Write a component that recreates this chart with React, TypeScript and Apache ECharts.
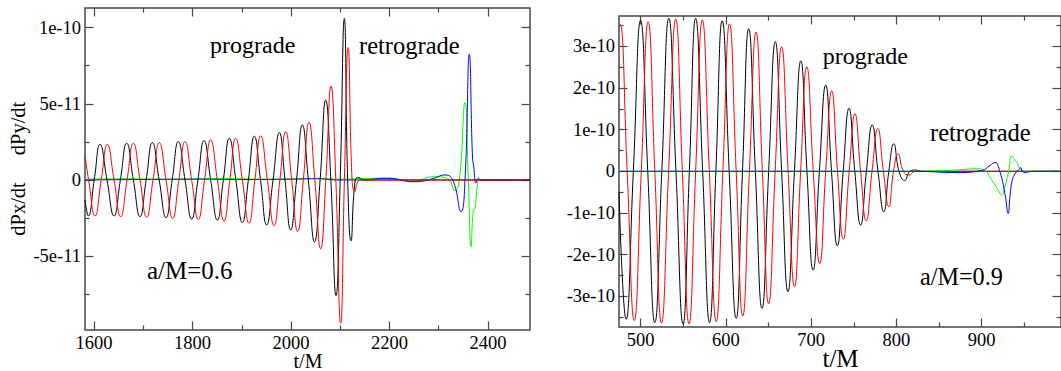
import React, { useEffect, useRef } from "react";
import * as echarts from "echarts";

// ---------- tick values / labels ----------
const leftXMajor = [1600, 1800, 2000, 2200, 2400];
const leftXMinor = [1700, 1900, 2100, 2300];
const leftYMajor = [-5, 0, 5, 10]; // units of 1e-11
const leftYLabels = ["-5e-11", "0", "5e-11", "1e-10"];
const leftYMinor = [-7.5, -2.5, 2.5, 7.5];
const rightXMajor = [500, 600, 700, 800, 900];
const rightXMinor = [550, 650, 750, 850, 950];
const rightYMajor = [-3, -2, -1, 0, 1, 2, 3]; // units of 1e-10
const rightYLabels = ["-3e-10", "-2e-10", "-1e-10", "0", "1e-10", "2e-10", "3e-10"];
const rightYMinor = [-3.5, -2.5, -1.5, -0.5, 0.5, 1.5, 2.5, 3.5];

// ---------- left panel (a/M=0.6), values in 1e-11 ----------
const leftBlack = [
  [1581.7, -1.3], [1588.5, -2.36], [1600.4, 0], [1612.2, 2.34], [1626.4, 0], [1640.6, -2.36],
  [1653.5, 0], [1666.3, 2.41], [1679.9, 0], [1693.4, -2.41], [1705.9, 0], [1718.4, 2.45],
  [1732.3, 0], [1746.2, -2.47], [1758.7, 0], [1771.2, 2.52], [1784.8, 0], [1798.3, -2.56],
  [1810.9, 0], [1823.4, 2.58], [1836.9, 0], [1850.4, -2.63], [1862.6, 0], [1874.8, 2.74],
  [1888.0, 0], [1901.2, -2.8], [1913.4, 0], [1925.5, 2.87], [1938.1, 0], [1950.6, -2.95],
  [1963.5, 0], [1976.3, 3.11], [1987.8, 0], [1999.3, -3.28], [2011.2, 0], [2023.0, 3.61],
  [2035.2, 0], [2047.8, -4.07], [2059.1, 0], [2070.4, 5.25], [2080.9, 0], [2091.4, -7.59],
  [2099.9, 0], [2108.3, 10.6], [2115.1, 0], [2121.8, -4.0], [2130.5, 0], [2138.5, 0.15],
  [2146, 0], [2485.3, 0],
];
const leftRed = [
  [1581.7, 1.64], [1589.0, 0], [1602.0, -2.36], [1614.6, 0], [1627.1, 2.34], [1640.6, 0],
  [1654.1, -2.41], [1667.0, 0], [1679.9, 2.41], [1693.4, 0], [1706.9, -2.45], [1719.8, 0],
  [1732.7, 2.45], [1746.2, 0], [1759.7, -2.52], [1772.3, 0], [1784.8, 2.52], [1798.3, 0],
  [1811.8, -2.58], [1824.4, 0], [1836.9, 2.63], [1850.5, 0], [1864.0, -2.69], [1875.8, 0],
  [1887.6, 2.74], [1901.2, 0], [1914.7, -2.84], [1926.6, 0], [1938.4, 2.89], [1952.0, 0],
  [1965.5, -3.0], [1977.4, 0], [1989.2, 3.17], [2001.4, 0], [2013.5, -3.39], [2025.0, 0],
  [2036.5, 3.79], [2048.4, 0], [2060.2, -4.52], [2070.7, 0], [2081.2, 6.17], [2091.0, 0],
  [2100.8, -9.41], [2108.4, 0], [2116.0, 8.69], [2124.0, 0], [2129.5, -0.77], [2136, -0.1],
  [2145, 0], [2485.3, 0],
];
const leftGreen = [
  [1581.7, 0.05], [1650, 0.08], [1750, 0.05], [1850, 0.1], [1950, 0.05], [2050, 0.1],
  [2100, 0.05], [2150, 0.1], [2200, 0.12], [2245, -0.12], [2290, 0.22], [2318, 0.1],
  [2333, -0.7], [2341.8, 0], [2353.3, 5.08], [2360.1, 0], [2365.5, -4.38], [2370.2, -1.97],
  [2373.6, -1.9], [2378.3, -0.44], [2383.8, 0], [2485.3, 0],
];
const leftBlue = [
  [1581.7, 0], [1700, 0.03], [1800, 0.05], [1900, 0.03], [2000, 0.05], [2050, 0.08],
  [2100, 0], [2140, 0], [2194, 0.11], [2252, -0.11], [2290, 0.1], [2311, 0.33],
  [2328.3, 0], [2345.2, -2.08], [2353.3, 0], [2362.1, 8.25], [2368.5, 1.5], [2371, 0.9],
  [2375.6, -0.2], [2380.3, 0.11], [2386, 0], [2485.3, 0],
];

// ---------- right panel (a/M=0.9), values in 1e-10 ----------
const rightBlack = [
  [474.7, -0.5], [483.0, -3.55], [491.5, 0], [500.0, 3.62], [508.4, 0], [516.7, -3.63],
  [524.9, 0], [533.1, 3.67], [541.5, 0], [549.8, -3.66], [557.2, 0], [564.6, 3.67],
  [572.8, 0], [580.9, -3.63], [588.3, 0], [595.7, 3.61], [603.9, 0], [612.1, -3.53],
  [619.5, 0], [626.8, 3.42], [634.6, 0], [642.4, -3.29], [650.2, 0], [658.0, 3.11],
  [665.4, 0], [672.8, -2.89], [680.4, 0], [687.9, 2.65], [695.1, 0], [702.3, -2.37],
  [709.7, 0], [717.1, 2.07], [723.9, 0], [730.7, -1.79], [737.6, 0], [744.4, 1.51],
  [751.2, 0], [758.0, -1.29], [764.8, 0], [771.6, 1.11], [778.4, 0], [785.2, -0.97],
  [791.1, 0], [796.9, 0.66], [803.1, 0], [809.5, -0.22], [816, 0], [822, 0.03], [830, 0],
  [993, 0],
];
const rightRed = [
  [474.7, 3.5], [476.0, 3.52], [484.3, 0], [492.6, -3.58], [500.8, 0], [508.9, 3.59],
  [516.7, 0], [524.5, -3.64], [532.9, 0], [541.2, 3.65], [549.0, 0], [556.8, -3.66],
  [564.6, 0], [572.4, 3.63], [580.6, 0], [588.7, -3.61], [596.5, 0], [604.3, 3.54],
  [612.1, 0], [619.8, -3.47], [627.6, 0], [635.4, 3.34], [642.8, 0], [650.2, -3.18],
  [657.8, 0], [665.4, 2.99], [673.0, 0], [680.5, -2.77], [687.7, 0], [694.9, 2.51],
  [702.5, 0], [710.1, -2.22], [717.1, 0], [724.1, 1.93], [730.9, 0], [737.7, -1.63],
  [744.6, 0], [751.4, 1.38], [758.0, 0], [764.6, -1.19], [771.4, 0], [778.2, 1.03],
  [784.7, 0], [791.1, -0.85], [796.6, 0], [802.0, 0.42], [808.2, 0], [814.8, -0.09],
  [822, 0], [993, 0],
];
const rightGreen = [
  [474.7, 0], [800, 0], [860, 0.02], [896, 0.06], [903, 0.03], [911.6, -0.21],
  [919.4, -0.45], [923.3, -0.57], [927.2, -0.37], [931.9, 0.03], [935, 0.37],
  [938.9, 0.27], [942, 0.19], [944.7, 0.07], [950, 0.01], [960, 0], [993, 0],
];
const rightBlue = [
  [474.7, 0], [820, 0], [872, -0.03], [900, 0.02], [909.7, 0.14], [915.5, 0.21],
  [921.3, -0.01], [927.2, -0.53], [931.1, -1.01], [933.1, -0.61], [935.8, -0.22],
  [939.6, -0.04], [942.7, 0.02], [945.9, 0.09], [947.5, 0], [950.6, -0.03],
  [956.4, -0.01], [962, 0], [993, 0],
];

const FONT = "'Liberation Serif', 'Times New Roman', serif";
const FRAME = "#474747";

function tick(vals: number[], len: number) {
  return {
    show: true, inside: true, length: len, customValues: vals,
    lineStyle: { color: FRAME, width: 1.2 },
  };
}

function makeX(grid: number, min: number, max: number, major: number[], minor: number[], margin: number) {
  const base = {
    type: "value", gridIndex: grid, min, max,
    axisLine: { show: false, onZero: false }, splitLine: { show: false },
  };
  return [
    {
      ...base, position: "bottom", axisTick: tick(major, 8.5),
      axisLabel: {
        show: true, customValues: major, margin, color: "#000",
        fontFamily: FONT, fontSize: 18.5, formatter: (v: number) => String(v),
      },
    },
    { ...base, position: "bottom", axisTick: tick(minor, 4.5), axisLabel: { show: false } },
    { ...base, position: "top", axisTick: tick(major, 8.5), axisLabel: { show: false } },
    { ...base, position: "top", axisTick: tick(minor, 4.5), axisLabel: { show: false } },
  ];
}

function makeY(grid: number, min: number, max: number, major: number[], labels: string[], minor: number[]) {
  const base = {
    type: "value", gridIndex: grid, min, max,
    axisLine: { show: false, onZero: false }, splitLine: { show: false },
  };
  return [
    {
      ...base, position: "left", axisTick: tick(major, 8.5),
      axisLabel: {
        show: true, customValues: major, margin: 4, color: "#000",
        fontFamily: FONT, fontSize: 18.5,
        formatter: (v: number) => {
          const i = major.findIndex((m) => Math.abs(m - v) < 1e-9);
          return i >= 0 ? labels[i] : "";
        },
      },
    },
    { ...base, position: "left", axisTick: tick(minor, 4.5), axisLabel: { show: false } },
    { ...base, position: "right", axisTick: tick(major, 8.5), axisLabel: { show: false } },
    { ...base, position: "right", axisTick: tick(minor, 4.5), axisLabel: { show: false } },
  ];
}

function line(data: number[][], color: string, axis: number) {
  return {
    type: "line", data, xAxisIndex: axis, yAxisIndex: axis,
    showSymbol: false, symbol: "none", smooth: 0.5,
    lineStyle: { color, width: 1 }, itemStyle: { color },
    emphasis: { disabled: true }, silent: true,
  };
}

function txt(text: string, x: number, y: number, size: number, align = "left", rotation = 0) {
  return {
    type: "text", x, y, rotation, z: 100, silent: true,
    style: {
      text, fontFamily: FONT, fontSize: size, fill: "#000",
      align, verticalAlign: "middle",
    },
  };
}

export default function App() {
  const ref = useRef<HTMLDivElement>(null);
  useEffect(() => {
    if (!ref.current) return;
    const chart = echarts.init(ref.current, undefined, { renderer: "svg" });
    const option = {
      animation: false,
      backgroundColor: "#fff",
      textStyle: { fontFamily: FONT },
      grid: [
        { left: 85, top: 8, width: 445, height: 322, show: true, borderColor: FRAME, borderWidth: 1.5, backgroundColor: "transparent" },
        { left: 619, top: 16, width: 444, height: 311, show: true, borderColor: FRAME, borderWidth: 1.5, backgroundColor: "transparent" },
      ],
      xAxis: [
        ...makeX(0, 1581.7, 2485.3, leftXMajor, leftXMinor, 3),
        ...makeX(1, 474.7, 993, rightXMajor, rightXMinor, 3.5),
      ],
      yAxis: [
        ...makeY(0, -9.85, 11.29, leftYMajor, leftYLabels, leftYMinor),
        ...makeY(1, -3.737, 3.727, rightYMajor, rightYLabels, rightYMinor),
      ],
      series: [
        line(leftGreen, "#00ff00", 0),
        line(leftBlue, "#0000ff", 0),
        line(leftBlack, "#000000", 0),
        line(leftRed, "#ff0000", 0),
        line(rightBlack, "#000000", 4),
        line(rightRed, "#ff0000", 4),
        line(rightGreen, "#00ff00", 4),
        line(rightBlue, "#0000ff", 4),
      ],
      graphic: [
        txt("prograde", 210, 45.2, 24),
        txt("retrograde", 359, 45.2, 24.5),
        txt("a/M=0.6", 147, 270.6, 25),
        txt("prograde", 822.7, 55.9, 24),
        txt("retrograde", 930, 132.9, 24.5),
        txt("a/M=0.9", 920, 276.7, 24.2),
        txt("t/M", 308, 361, 20, "center"),
        txt("t/M", 840.5, 358.5, 25, "center"),
        txt("dPy/dt", 18.1, 128.5, 20.5, "center", Math.PI / 2),
        txt("dPx/dt", 18.1, 209, 20.5, "center", Math.PI / 2),
      ],
    };
    chart.setOption(option as any);
    return () => chart.dispose();
  }, []);
  return (
    <div
      ref={ref}
      style={{ position: "absolute", left: 0, top: 0, width: 1061, height: 371 }}
    />
  );
}
